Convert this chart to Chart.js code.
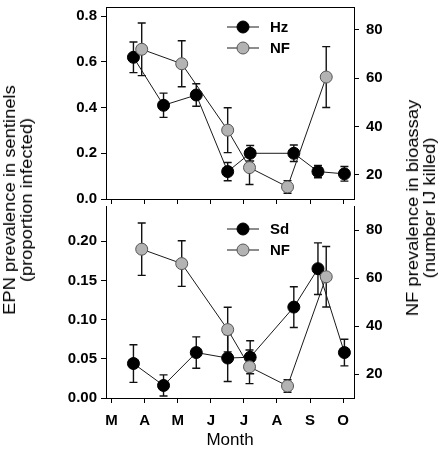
<!DOCTYPE html>
<html>
<head>
<meta charset="utf-8">
<script src="https://cdn.jsdelivr.net/npm/chart.js@4.4.1/dist/chart.umd.min.js"></script>
<style>
  body { margin: 0; background: #fff; }
  #wrap { position: relative; width: 444px; height: 449px; overflow: hidden; font-family: "Liberation Sans", Arial, sans-serif; }
  canvas { position: absolute; left: 0; }
  #topChart { top: 0; }
  #bottomChart { top: 199px; }
  .ytitle { position: absolute; font-size: 17px; line-height: 17px; text-align: center; white-space: nowrap; color: #000;
            transform: translate(-50%, -50%) rotate(-90deg) scaleX(1.08); }
</style>
</head>
<body>
<div id="wrap">
  <canvas id="topChart" width="444" height="212"></canvas>
  <canvas id="bottomChart" width="444" height="250"></canvas>
  <div class="ytitle" style="left:18px; top:200px">EPN prevalence in sentinels<br>(proportion infected)</div>
  <div class="ytitle" style="left:421px; top:208px">NF prevalence in bioassay<br>(number IJ killed)</div>
</div>
<script>
// months on the x axis (0 = March ... 7 = October)
const monthLabels = ["M", "A", "M", "J", "J", "A", "S", "O"];
const monthTicks = [0, 1, 2, 3, 4, 5, 6, 7];

// sentinel sampling dates (as month position) and values
const hzDates = [0.66, 1.57, 2.56, 3.51, 4.19, 5.51, 6.24, 7.04];
const hzMean = [0.62, 0.41, 0.455, 0.12, 0.20, 0.20, 0.12, 0.11];
const hzErr = [0.067, 0.053, 0.049, 0.04, 0.034, 0.036, 0.027, 0.032];

const sdDates = [0.66, 1.57, 2.56, 3.51, 4.19, 5.51, 6.24, 7.04];
const sdMean = [0.044, 0.016, 0.058, 0.051, 0.052, 0.116, 0.165, 0.058];
const sdErr = [0.024, 0.0135, 0.02, 0.03, 0.021, 0.026, 0.033, 0.017];

// NF bioassay (number IJ killed)
const nfDates = [0.91, 2.12, 3.51, 4.17, 5.32, 6.49];
const nfMean = [72, 66, 38.5, 23, 15, 60.5];
const nfErr = [10.9, 9.5, 9.3, 7, 2.6, 12.6];

const epnTopTicks = [0, 0.2, 0.4, 0.6, 0.8];
const epnBottomTicks = [0, 0.05, 0.10, 0.15, 0.20];
const nfTicks = [20, 40, 60, 80];

Chart.defaults.font.family = '"Liberation Sans", Arial, sans-serif';
Chart.defaults.color = "#000";

const tickFont = { size: 15, weight: "bold" };
const xMin = -0.17, xMax = 7.33;

function points(xs, ys) {
  return xs.map((x, i) => ({ x: x, y: ys[i] }));
}

function setTicks(values) {
  return s => { s.ticks = values.map(v => ({ value: v })); };
}

function fixSize(w, h) {
  return s => {
    if (w != null) s.width = w;
    if (h != null) s.height = h;
    s.paddingTop = 0; s.paddingBottom = 0; s.paddingLeft = 0; s.paddingRight = 0;
  };
}

const blackStyle = {
  borderColor: "#1a1a1a", borderWidth: 1,
  pointBackgroundColor: "#000", pointBorderColor: "#000", pointBorderWidth: 1,
  pointRadius: 6, showLine: true, clip: false
};
const grayStyle = {
  borderColor: "#1a1a1a", borderWidth: 1,
  pointBackgroundColor: "#b3b3b3", pointBorderColor: "#555", pointBorderWidth: 1,
  pointRadius: 6, showLine: true, clip: false, order: -1
};

const errorBars = {
  id: "errorBars",
  beforeDatasetsDraw(chart) {
    const ctx = chart.ctx;
    ctx.save();
    ctx.strokeStyle = "#111";
    ctx.lineWidth = 1.4;
    chart.data.datasets.forEach((ds, i) => {
      const meta = chart.getDatasetMeta(i);
      const yScale = chart.scales[ds.yAxisID];
      meta.data.forEach((pt, j) => {
        const v = ds.data[j].y, e = ds.errors[j];
        const yTop = yScale.getPixelForValue(v + e);
        const yBot = yScale.getPixelForValue(v - e);
        ctx.beginPath();
        ctx.moveTo(pt.x, yTop); ctx.lineTo(pt.x, yBot);
        ctx.moveTo(pt.x - 4, yTop); ctx.lineTo(pt.x + 4, yTop);
        ctx.moveTo(pt.x - 4, yBot); ctx.lineTo(pt.x + 4, yBot);
        ctx.stroke();
      });
    });
    ctx.restore();
  }
};

const miniLegend = {
  id: "miniLegend",
  afterDatasetsDraw(chart, args, opts) {
    const ctx = chart.ctx, a = chart.chartArea;
    ctx.save();
    chart.data.datasets.forEach((ds, i) => {
      const y = a.top + opts.top + i * 21;
      const x0 = a.left + opts.left;
      ctx.strokeStyle = "#1a1a1a"; ctx.lineWidth = 1;
      ctx.beginPath(); ctx.moveTo(x0, y); ctx.lineTo(x0 + 32, y); ctx.stroke();
      ctx.beginPath(); ctx.arc(x0 + 16, y, 6, 0, Math.PI * 2);
      ctx.fillStyle = ds.pointBackgroundColor; ctx.fill();
      ctx.strokeStyle = ds.pointBorderColor; ctx.stroke();
      ctx.fillStyle = "#000";
      ctx.font = "bold 15px 'Liberation Sans', Arial, sans-serif";
      ctx.textBaseline = "middle";
      ctx.fillText(ds.label, x0 + 43, y + 1);
    });
    ctx.restore();
  }
};

const topFrame = {
  id: "topFrame",
  afterDraw(chart) {
    const ctx = chart.ctx, a = chart.chartArea;
    ctx.save();
    ctx.strokeStyle = "#000"; ctx.lineWidth = 1;
    ctx.beginPath(); ctx.moveTo(a.left, a.top + 0.5); ctx.lineTo(a.right, a.top + 0.5); ctx.stroke();
    ctx.restore();
  }
};

function yAxis(pos, min, max, ticks, digits, width, pad) {
  return {
    type: "linear", position: pos, min: min, max: max,
    afterBuildTicks: setTicks(ticks),
    afterFit: fixSize(width, null),
    grid: { drawOnChartArea: false, tickLength: 5, color: "#000" },
    border: { color: "#000", width: 1 },
    ticks: { font: tickFont, padding: pad, callback: v => digits == null ? v : v.toFixed(digits) }
  };
}

new Chart(document.getElementById("topChart"), {
  type: "scatter",
  data: {
    datasets: [
      Object.assign({ label: "Hz", data: points(hzDates, hzMean), errors: hzErr, yAxisID: "yL" }, blackStyle),
      Object.assign({ label: "NF", data: points(nfDates, nfMean), errors: nfErr, yAxisID: "yR" }, grayStyle)
    ]
  },
  options: {
    responsive: false, animation: false, events: [],
    layout: { padding: { top: 1 } },
    plugins: { legend: { display: false }, tooltip: { enabled: false }, miniLegend: { left: 121, top: 20 } },
    scales: {
      x: {
        type: "linear", min: xMin, max: xMax,
        afterBuildTicks: setTicks(monthTicks),
        afterFit: fixSize(null, 13),
        ticks: { display: false },
        grid: { drawOnChartArea: false, tickLength: 5, color: "#000" },
        border: { color: "#000", width: 1 }
      },
      yL: yAxis("left", 0, 0.84, epnTopTicks, 1, 106, 4),
      yR: yAxis("right", 10, 89.5, nfTicks, null, 90, 7)
    }
  },
  plugins: [errorBars, miniLegend, topFrame]
});

new Chart(document.getElementById("bottomChart"), {
  type: "scatter",
  data: {
    datasets: [
      Object.assign({ label: "Sd", data: points(sdDates, sdMean), errors: sdErr, yAxisID: "yL" }, blackStyle),
      Object.assign({ label: "NF", data: points(nfDates, nfMean), errors: nfErr, yAxisID: "yR" }, grayStyle)
    ]
  },
  options: {
    responsive: false, animation: false, events: [],
    layout: { padding: 0 },
    plugins: { legend: { display: false }, tooltip: { enabled: false }, miniLegend: { left: 121, top: 23 } },
    scales: {
      x: {
        type: "linear", min: xMin, max: xMax,
        afterBuildTicks: setTicks(monthTicks),
        afterFit: fixSize(null, 51),
        ticks: { font: tickFont, padding: 9, maxRotation: 0, callback: v => monthLabels[v] },
        grid: { drawOnChartArea: false, tickLength: 5, color: "#000" },
        border: { color: "#000", width: 1 },
        title: { display: true, text: "Month", font: { size: 17, lineHeight: 1 }, padding: 0 }
      },
      yL: yAxis("left", 0, 0.245, epnBottomTicks, 2, 106, 4),
      yR: yAxis("right", 10, 90, nfTicks, null, 90, 7)
    }
  },
  plugins: [errorBars, miniLegend]
});
</script>
</body>
</html>
